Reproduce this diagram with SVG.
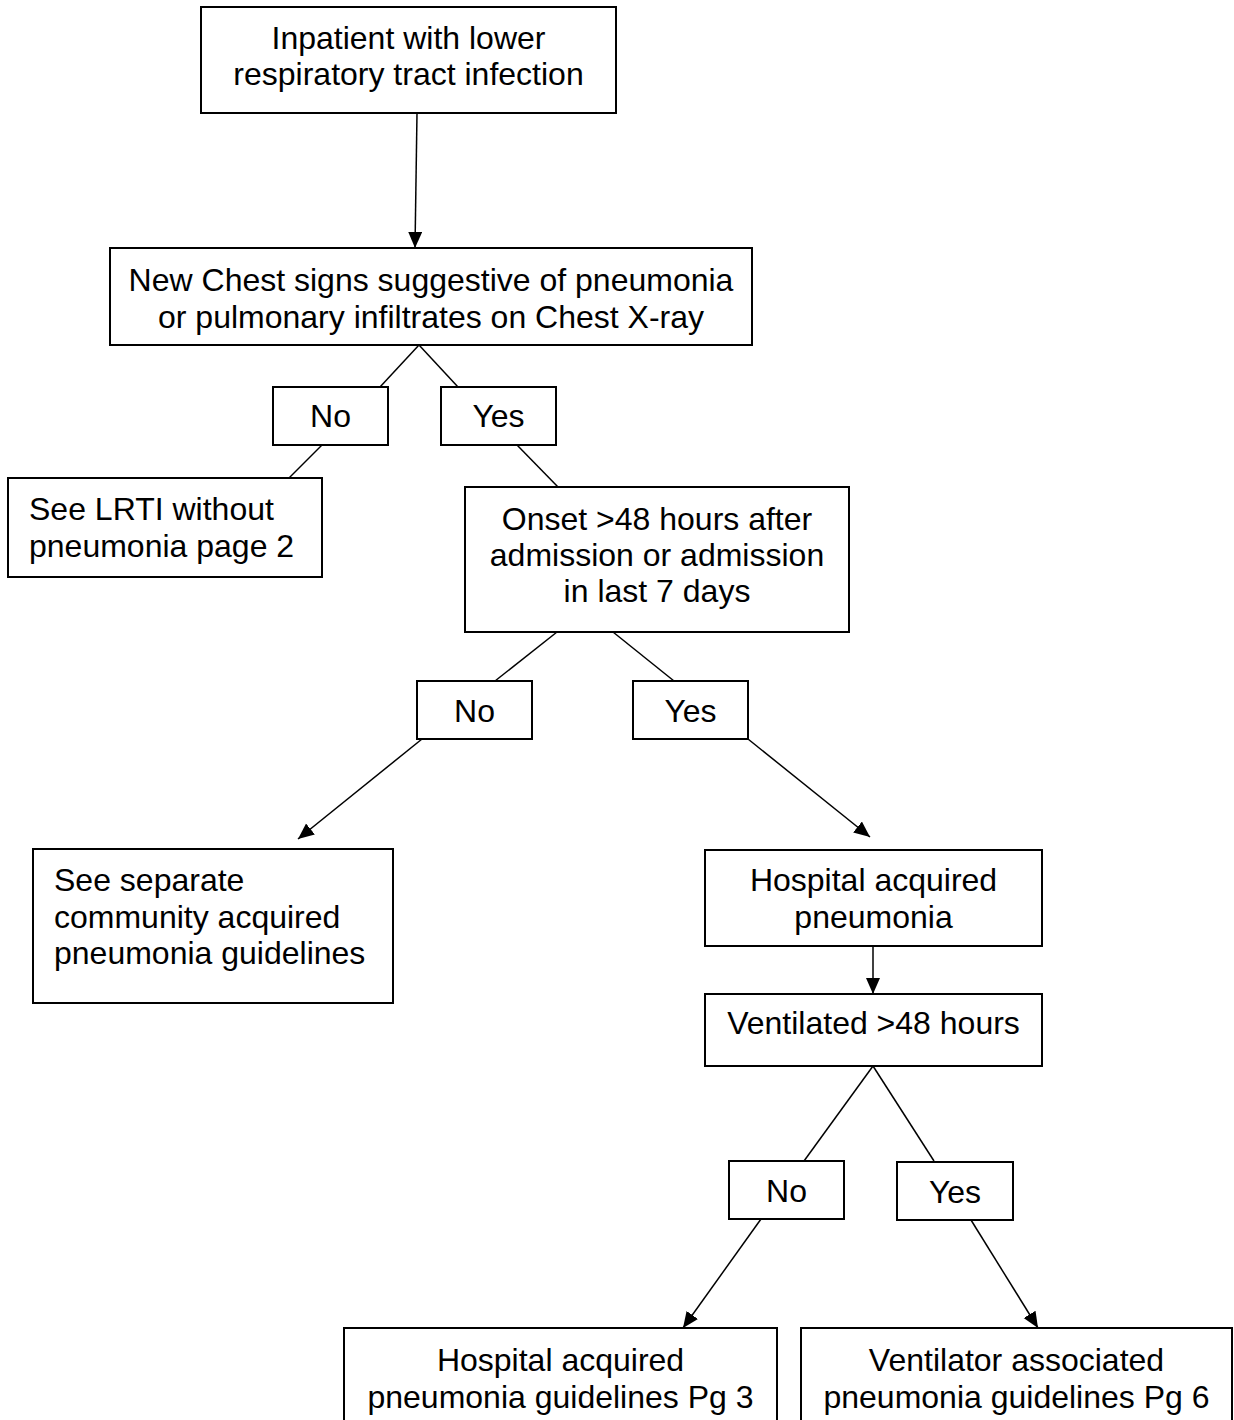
<svg xmlns="http://www.w3.org/2000/svg" width="1234" height="1420" viewBox="0 0 1234 1420">
<defs>
<style>
.box{fill:#fff;stroke:#000;stroke-width:2}
.t{font-family:"Liberation Sans",Arial,sans-serif;font-size:32px;fill:#000;text-anchor:middle}
.l{text-anchor:start}
.c{stroke:#000;stroke-width:1.5;fill:none}
</style>
<marker id="ah" markerUnits="userSpaceOnUse" markerWidth="17" markerHeight="15" refX="16" refY="7" orient="auto">
<path d="M0,0 L16,7 L0,14 z" fill="#000"/>
</marker>
</defs>
<rect width="1234" height="1420" fill="#fff"/>
<g id="connectors">
<line class="c" x1="417" y1="113" x2="415" y2="248" marker-end="url(#ah)"/>
<line class="c" x1="419" y1="345" x2="380" y2="387"/>
<line class="c" x1="419" y1="345" x2="458" y2="387"/>
<line class="c" x1="322" y1="445" x2="289" y2="478"/>
<line class="c" x1="517" y1="445" x2="558" y2="487"/>
<line class="c" x1="557" y1="632" x2="495" y2="681"/>
<line class="c" x1="613" y1="632" x2="674" y2="681"/>
<line class="c" x1="422" y1="739" x2="298" y2="839" marker-end="url(#ah)"/>
<line class="c" x1="748" y1="739" x2="870" y2="837" marker-end="url(#ah)"/>
<line class="c" x1="873" y1="946" x2="873" y2="994" marker-end="url(#ah)"/>
<line class="c" x1="873" y1="1066" x2="804" y2="1161"/>
<line class="c" x1="873" y1="1066" x2="934" y2="1161"/>
<line class="c" x1="761" y1="1219" x2="683" y2="1328" marker-end="url(#ah)"/>
<line class="c" x1="971" y1="1220" x2="1038" y2="1328" marker-end="url(#ah)"/>
</g>
<g id="n-start"><rect class="box" x="201" y="7" width="415" height="106"/>
<text class="t" x="408.5" y="49">Inpatient with lower</text>
<text class="t" x="408.5" y="85">respiratory tract infection</text></g>
<g id="n-chest"><rect class="box" x="110" y="248" width="642" height="97"/>
<text class="t" x="431" y="291">New Chest signs suggestive of pneumonia</text>
<text class="t" x="431" y="328">or pulmonary infiltrates on Chest X-ray</text></g>
<g id="n-no1"><rect class="box" x="273" y="387" width="115" height="58"/>
<text class="t" x="330.5" y="427">No</text></g>
<g id="n-yes1"><rect class="box" x="441" y="387" width="115" height="58"/>
<text class="t" x="498.5" y="427">Yes</text></g>
<g id="n-lrti"><rect class="box" x="8" y="478" width="314" height="99"/>
<text class="t l" x="29" y="520">See LRTI without</text>
<text class="t l" x="29" y="557">pneumonia page 2</text></g>
<g id="n-onset"><rect class="box" x="465" y="487" width="384" height="145"/>
<text class="t" x="657" y="530">Onset &gt;48 hours after</text>
<text class="t" x="657" y="566">admission or admission</text>
<text class="t" x="657" y="602">in last 7 days</text></g>
<g id="n-no2"><rect class="box" x="417" y="681" width="115" height="58"/>
<text class="t" x="474.5" y="722">No</text></g>
<g id="n-yes2"><rect class="box" x="633" y="681" width="115" height="58"/>
<text class="t" x="690.5" y="722">Yes</text></g>
<g id="n-cap"><rect class="box" x="33" y="849" width="360" height="154"/>
<text class="t l" x="54" y="891">See separate</text>
<text class="t l" x="54" y="928">community acquired</text>
<text class="t l" x="54" y="964">pneumonia guidelines</text></g>
<g id="n-hap"><rect class="box" x="705" y="850" width="337" height="96"/>
<text class="t" x="873.5" y="891">Hospital acquired</text>
<text class="t" x="873.5" y="928">pneumonia</text></g>
<g id="n-vent"><rect class="box" x="705" y="994" width="337" height="72"/>
<text class="t" x="873.5" y="1034">Ventilated &gt;48 hours</text></g>
<g id="n-no3"><rect class="box" x="729" y="1161" width="115" height="58"/>
<text class="t" x="786.5" y="1202">No</text></g>
<g id="n-yes3"><rect class="box" x="897" y="1162" width="116" height="58"/>
<text class="t" x="955" y="1203">Yes</text></g>
<g id="n-hapg"><rect class="box" x="344" y="1328" width="433" height="110"/>
<text class="t" x="560.5" y="1371">Hospital acquired</text>
<text class="t" x="560.5" y="1408">pneumonia guidelines Pg 3</text></g>
<g id="n-vapg"><rect class="box" x="801" y="1328" width="431" height="110"/>
<text class="t" x="1016.5" y="1371">Ventilator associated</text>
<text class="t" x="1016.5" y="1408">pneumonia guidelines Pg 6</text></g>
</svg>
